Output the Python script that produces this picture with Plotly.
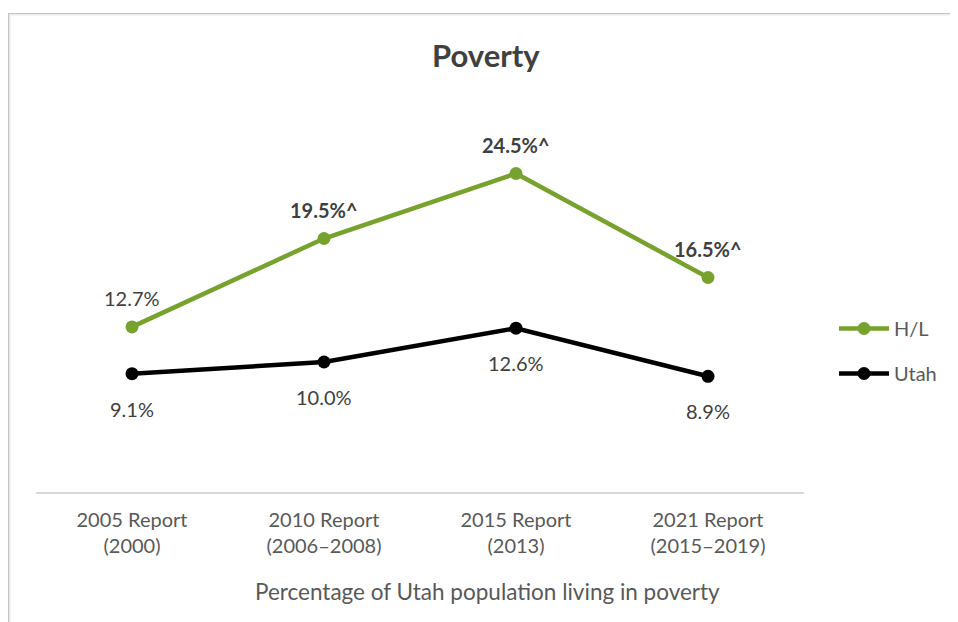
import plotly.graph_objects as go

categories = ["2005 Report<br>(2000)", "2010 Report<br>(2006–2008)", "2015 Report<br>(2013)", "2021 Report<br>(2015–2019)"]
hl_values = [12.7, 19.5, 24.5, 16.5]
utah_values = [9.1, 10.0, 12.6, 8.9]
hl_labels = ["12.7%", "<b>19.5%^</b>", "<b>24.5%^</b>", "<b>16.5%^</b>"]
utah_labels = ["9.1%", "10.0%", "12.6%", "8.9%"]

GREEN = "#77a22d"
BLACK = "#000000"
FONT = "Lato"
TXT = "#404040"
TICK = "#595959"

fig = go.Figure()
fig.add_trace(go.Scatter(x=categories, y=hl_values, name="H/L", mode="lines+markers", legendgroup="a",
                         line=dict(color=GREEN, width=4.5), marker=dict(size=13, color=GREEN)))
fig.add_trace(go.Scatter(x=categories, y=utah_values, name="Utah", mode="lines+markers", legendgroup="b",
                         line=dict(color=BLACK, width=4.5), marker=dict(size=13, color=BLACK)))

annotations = []
for c, v, t in zip(categories, hl_values, hl_labels):
    annotations.append(dict(x=c, y=v, text=t, showarrow=False, yshift=29,
                            font=dict(family=FONT, size=20, color=TXT)))
for c, v, t in zip(categories, utah_values, utah_labels):
    annotations.append(dict(x=c, y=v, text=t, showarrow=False, yshift=-35,
                            font=dict(family=FONT, size=20, color=TXT)))
annotations.append(dict(xref="paper", yref="paper", x=(486 - 36) / 768, y=(492 - 55) / 390,
                        text="<b>Poverty</b>", showarrow=False,
                        font=dict(family=FONT, size=31, color=TXT), xanchor="center", yanchor="middle"))
annotations.append(dict(xref="paper", yref="paper", x=(487 - 36) / 768, y=(492 - 591) / 390,
                        text="Percentage of Utah population living in poverty", showarrow=False,
                        font=dict(family=FONT, size=22.5, color=TICK), xanchor="center", yanchor="middle"))

fig.update_layout(
    width=950, height=614,
    margin=dict(l=28, r=154, t=94, b=130),
    paper_bgcolor="white", plot_bgcolor="white",
    showlegend=True,
    legend=dict(x=(834 - 36) / 768, y=(492 - 351) / 390, xanchor="left", yanchor="middle",
                font=dict(family=FONT, size=20, color=TICK), itemwidth=50, tracegroupgap=16,
                bgcolor="rgba(0,0,0,0)"),
    xaxis=dict(showline=True, linecolor="#d9d9d9", linewidth=2, showgrid=False, ticks="",
               range=[-0.5, 3.5], ticklabelstandoff=9,
               tickfont=dict(family=FONT, size=20, color=TICK), fixedrange=True),
    yaxis=dict(range=[0, 30], visible=False, showgrid=False, fixedrange=True),
    annotations=annotations,
    shapes=[
        dict(type="rect", xref="paper", yref="paper",
             x0=(9.5 - 36) / 768, x1=(1000 - 36) / 768,
             y0=(492 - 700) / 390, y1=(492 - 14.5) / 390,
             line=dict(color="#ececec", width=2), fillcolor="rgba(0,0,0,0)", layer="below"),
        dict(type="rect", xref="paper", yref="paper",
             x0=(8.5 - 36) / 768, x1=(1000 - 36) / 768,
             y0=(492 - 700) / 390, y1=(492 - 13.5) / 390,
             line=dict(color="#c4c4c4", width=1.2), fillcolor="rgba(0,0,0,0)", layer="below"),
    ],
)

fig.write_html("out.html")
